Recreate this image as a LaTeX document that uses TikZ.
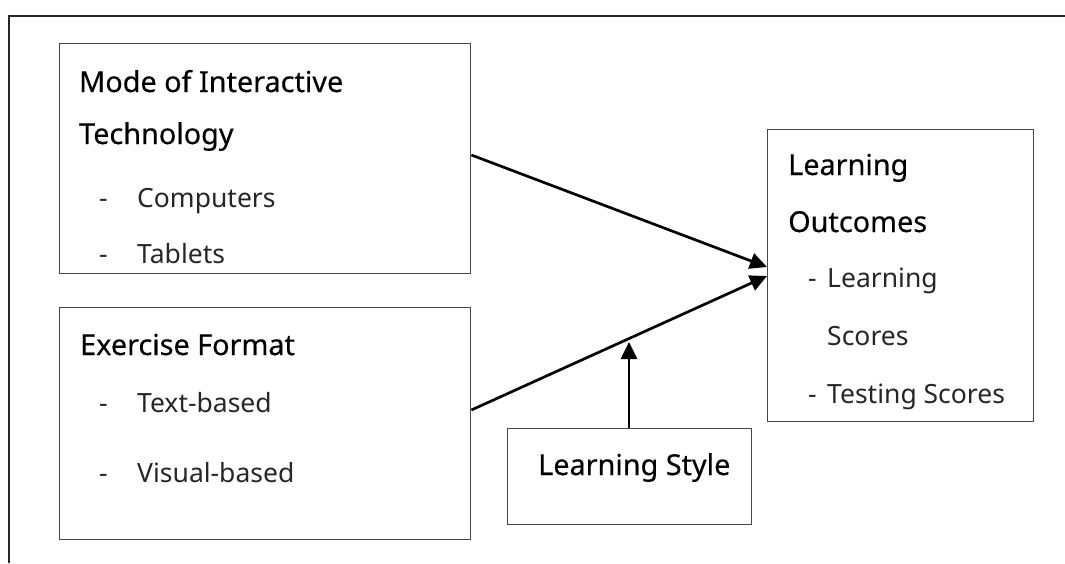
\documentclass[tikz,border=0pt]{standalone}
\usepackage{fontspec}
\setmainfont{Noto Sans}
\newfontfamily\headfont[FakeBold=0.35]{Noto Sans}
\usetikzlibrary{arrows.meta}
\begin{document}
\begin{tikzpicture}[x=1pt,y=-1pt,
  box/.style={draw=black!72, line width=1.4pt, rectangle, inner sep=0pt, anchor=north west},
  head/.style={anchor=base west, inner sep=0pt, font=\headfont\fontsize{28.8}{34}\selectfont},
  item/.style={anchor=base west, inner sep=0pt, text=black!85, font=\fontsize{26.5}{32}\selectfont},
  conn/.style={line width=2.7pt, -{Triangle[length=17pt,width=16pt]}},
  frameline/.style={draw=black!85, line width=2.6pt}]
  \useasboundingbox (0,0) rectangle (1065,563);

  % page frame (top rule and left rule)
  \draw[frameline] (9,563) -- (9,16) -- (1065,16);

  % boxes
  \node[box, minimum width=411pt, minimum height=230pt] (mode) at (59,43) {};
  \node[box, minimum width=411pt, minimum height=232pt] (exer) at (59,307) {};
  \node[box, minimum width=266pt, minimum height=292pt] (outc) at (767,129) {};
  \node[box, minimum width=244pt, minimum height=96pt] (lstyle) at (507,428) {};

  % Mode of Interactive Technology
  \node[head] (m1) at (79,92) {Mode of Interactive};
  \node[head] (m2) at (79,144) {Technology};
  \node[item] (m3d) at (99,207) {-};
  \node[item] (m3) at (137,207) {Computers};
  \node[item] (m4d) at (99,263) {-};
  \node[item] (m4) at (137,263) {Tablets};

  % Exercise Format
  \node[head] (e1) at (80,355) {Exercise Format};
  \node[item] (e2d) at (99,412) {-};
  \node[item] (e2) at (137,412) {Text-based};
  \node[item] (e3d) at (99,482) {-};
  \node[item] (e3) at (137,482) {Visual-based};

  % Learning Outcomes
  \node[head] (o1) at (788,175) {Learning};
  \node[head] (o2) at (788,232) {Outcomes};
  \node[item] (o3d) at (808,287) {-};
  \node[item] (o3) at (827,287) {Learning};
  \node[item] (o4) at (827,345) {Scores};
  \node[item] (o5d) at (808,403) {-};
  \node[item] (o5) at (827,403) {Testing Scores};

  % Learning Style
  \node[head] (s1) at (538,475) {Learning Style};

  % connectors
  \coordinate (mod) at (629,342);
  \draw[conn] ([yshift=-112pt]mode.north east) -- ([yshift=-138pt]outc.north west);
  \draw[conn] ([yshift=-103pt]exer.north east) -- ([yshift=-147pt]outc.north west);
  \draw[conn] (lstyle.north -| mod) -- (mod);
\end{tikzpicture}
\end{document}
